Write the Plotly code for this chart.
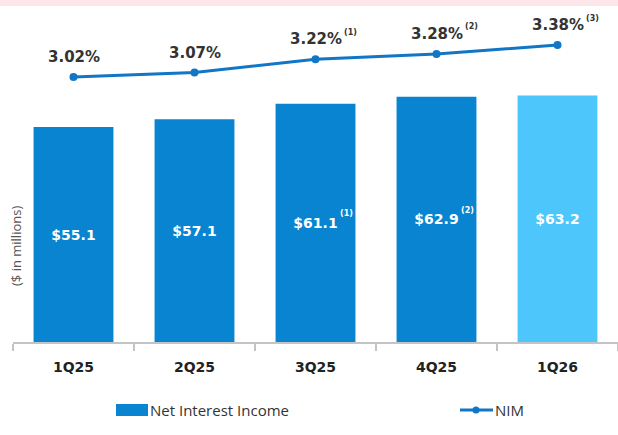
import plotly.graph_objects as go

# ---- data ----
quarters = ["1Q25", "2Q25", "3Q25", "4Q25", "1Q26"]
nii = [55.1, 57.1, 61.1, 62.9, 63.2]
nii_notes = ["", "", "(1)", "(2)", ""]
nim = [3.02, 3.07, 3.22, 3.28, 3.38]
nim_notes = ["", "", "(1)", "(2)", "(3)"]
series_names = ["Net Interest Income", "NIM"]
y_title = "($ in millions)"

# ---- layout geometry ----
W, H = 618, 435
ML, MR, MT, MB = 13, 0, 20, 93
PW, PH = W - ML - MR, H - MT - MB

def px(x):
    return (x - ML) / PW

def py(y):
    return (H - MB - y) / PH

BAR = "#0984d0"
BAR_LAST = "#4dc7fb"
LINE = "#1276c6"
BOLD = "DejaVu Sans"
REG = "Open Sans"

bar_colors = [BAR] * (len(quarters) - 1) + [BAR_LAST]

fig = go.Figure()
fig.add_trace(go.Bar(
    x=quarters, y=nii, name=series_names[0],
    marker=dict(color=bar_colors, line=dict(width=0)),
    width=0.66,
    text=[f"${v:.1f}" for v in nii],
    textposition="inside", insidetextanchor="middle",
    textfont=dict(family=BOLD, size=14, color="white", weight="bold"),
    showlegend=False, hoverinfo="skip",
))
fig.add_trace(go.Scatter(
    x=quarters, y=nim, name=series_names[1], yaxis="y2",
    mode="lines+markers",
    line=dict(color=LINE, width=3),
    marker=dict(color=LINE, size=8),
    showlegend=False, hoverinfo="skip",
))

ann = []
for q, v, n in zip(quarters, nim, nim_notes):
    ann.append(dict(x=q, y=v, xref="x", yref="y2", text=f"{v:.2f}%",
                    showarrow=False, yanchor="bottom", yshift=9,
                    font=dict(family=BOLD, size=15, color="#333333", weight="bold")))
    if n:
        ann.append(dict(x=q, y=v, xref="x", yref="y2", text=n,
                        showarrow=False, xanchor="left", yanchor="middle",
                        xshift=26, yshift=27,
                        font=dict(family=BOLD, size=8, color="#333333", weight="bold")))
for q, v, n in zip(quarters, nii, nii_notes):
    if n:
        ann.append(dict(x=q, y=v / 2, xref="x", yref="y", text=n,
                        showarrow=False, xanchor="left", yanchor="middle",
                        xshift=22, yshift=9,
                        font=dict(family=BOLD, size=8, color="white", weight="bold")))

# y-axis title
ann.append(dict(x=px(16), y=py(246), xref="paper", yref="paper", text=y_title,
                textangle=-90, showarrow=False, xanchor="center", yanchor="middle",
                font=dict(family=REG, size=13, color="#555555")))

# manual legend
ann.append(dict(x=px(148), y=py(410), xref="paper", yref="paper", text=series_names[0],
                xanchor="left", yanchor="middle", showarrow=False,
                font=dict(family=REG, size=15, color="#333333")))
ann.append(dict(x=px(493), y=py(410), xref="paper", yref="paper", text=series_names[1],
                xanchor="left", yanchor="middle", showarrow=False,
                font=dict(family=REG, size=15, color="#333333")))

shapes = [
    # top pink strip
    dict(type="rect", xref="paper", yref="paper", x0=px(0), x1=px(W), y0=py(0), y1=py(6),
         fillcolor="#fce6e9", line=dict(width=0), layer="below"),
    # legend swatch
    dict(type="rect", xref="paper", yref="paper", x0=px(116), x1=px(148), y0=py(416), y1=py(404),
         fillcolor=BAR, line=dict(width=0)),
    dict(type="line", xref="paper", yref="paper", x0=px(460), x1=px(493), y0=py(410), y1=py(410),
         line=dict(color=LINE, width=3)),
    dict(type="circle", xref="paper", yref="paper", x0=px(472.5), x1=px(479.5), y0=py(413.5), y1=py(406.5),
         fillcolor=LINE, line=dict(width=0)),
]

fig.update_layout(
    width=W, height=H,
    margin=dict(l=ML, r=MR, t=MT, b=MB, pad=0),
    paper_bgcolor="white", plot_bgcolor="white",
    bargap=0.34,
    xaxis=dict(type="category", showline=True, linecolor="#c4c4c4", linewidth=1.5,
               ticks="outside", tickson="boundaries", ticklen=7, tickcolor="#c4c4c4", tickwidth=1.5,
               tickfont=dict(family=BOLD, size=14, color="#222222", weight="bold"),
               ticklabelstandoff=11, showgrid=False, zeroline=False, fixedrange=True),
    yaxis=dict(range=[0, PH / 3.9], visible=False, showgrid=False, zeroline=False, fixedrange=True),
    yaxis2=dict(range=[3.02 - (H - MB - 77) / 88.9, 3.02 - (H - MB - 77) / 88.9 + PH / 88.9],
                overlaying="y", visible=False, showgrid=False, zeroline=False, fixedrange=True),
    annotations=ann, shapes=shapes, showlegend=False,
)

fig.write_html("out.html", config={"displayModeBar": False},
               post_script="document.body.style.margin='0';")
